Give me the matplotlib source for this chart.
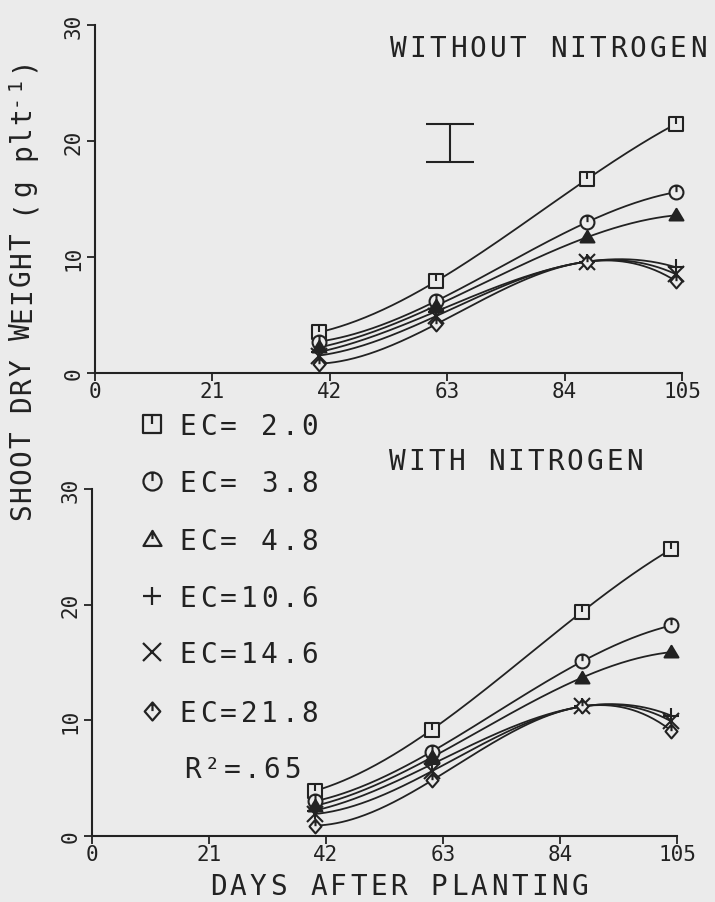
import numpy as np
import matplotlib
matplotlib.use("Agg")
import matplotlib.pyplot as plt
from matplotlib.path import Path

# ---- data -------------------------------------------------------------
days = [40, 61, 88, 104]
ec_labels = ["EC= 2.0", "EC= 3.8", "EC= 4.8", "EC=10.6", "EC=14.6", "EC=21.8"]
x_ticks = [0, 21, 42, 63, 84, 105]
y_ticks = [0, 10, 20, 30]

# shoot dry weight (g plt-1), without nitrogen
wo_ec2_0 = [3.5, 7.9, 16.7, 21.5]
wo_ec3_8 = [2.7, 6.2, 13.0, 15.6]
wo_ec4_8 = [2.2, 5.8, 11.7, 13.6]
wo_ec10_6 = [1.8, 5.3, 9.6, 9.1]
wo_ec14_6 = [1.5, 4.9, 9.6, 8.5]
wo_ec21_8 = [0.8, 4.2, 9.6, 7.9]

# shoot dry weight (g plt-1), with nitrogen
wn_ec2_0 = [3.9, 9.2, 19.4, 24.8]
wn_ec3_8 = [3.0, 7.3, 15.1, 18.2]
wn_ec4_8 = [2.6, 6.8, 13.7, 15.9]
wn_ec10_6 = [2.2, 6.2, 11.2, 10.4]
wn_ec14_6 = [1.9, 5.6, 11.2, 9.9]
wn_ec21_8 = [0.9, 4.8, 11.2, 9.1]

# LSD bar (without nitrogen panel)
lsd_day = 63.5
lsd_center = 19.85
lsd_half = 1.65

r2_text = "R²=.65"

# ---- style ------------------------------------------------------------
BG = "#ebebeb"
INK = "#222222"
FONT = ["DejaVu Sans Mono", "DejaVu Sans"]
W, H = 715, 903

plt.rcParams["font.family"] = FONT


def with_stub(base):
    stub = Path([(0, 1.0), (0, 0.05)], [Path.MOVETO, Path.LINETO])
    return Path.make_compound_path(base, stub)


M, L, C = Path.MOVETO, Path.LINETO, Path.CLOSEPOLY
sq_marker = with_stub(Path([(-1, -1), (1, -1), (1, 1), (-1, 1), (-1, -1)], [M, L, L, L, C]))
ci_marker = with_stub(Path.unit_circle())
tri_marker = with_stub(Path([(0, 1.0), (-1.05, -0.75), (1.05, -0.75), (0, 1.0)], [M, L, L, C]))
dia_marker = with_stub(Path([(0, 1.1), (0.95, 0), (0, -1.1), (-0.95, 0), (0, 1.1)], [M, L, L, L, C]))
markers = [sq_marker, ci_marker, tri_marker, "+", "x", dia_marker]

fig = plt.figure(figsize=(W / 100, H / 100), dpi=100, facecolor=BG)


def make_axes(left_px, right_px, y0_px, ytop_px):
    ax = fig.add_axes([left_px / W, 1 - y0_px / H,
                       (right_px - left_px) / W, (y0_px - ytop_px) / H])
    ax.set_facecolor("none")
    ax.set_xlim(0, 105)
    ax.set_ylim(0, 30)
    for s in ("top", "right"):
        ax.spines[s].set_visible(False)
    for s in ("left", "bottom"):
        ax.spines[s].set_linewidth(1.5)
        ax.spines[s].set_color(INK)
    ax.set_xticks(x_ticks)
    ax.set_xticklabels([str(v) for v in x_ticks])
    ax.set_yticks(y_ticks)
    ax.set_yticklabels([str(v) for v in y_ticks])
    ax.tick_params(axis="both", direction="out", length=6, width=1.3,
                   colors=INK, labelsize=15)
    ax.tick_params(axis="x", pad=0)
    ax.tick_params(axis="y", pad=2, labelrotation=90)
    for t in ax.get_yticklabels():
        t.set_va("center")
    return ax


ax_top = make_axes(95, 682, 374, 26)
ax_bot = make_axes(92, 677, 837, 490)

xs = np.linspace(days[0], days[-1], 200)


def draw_panel(ax, series):
    for vals, mk in zip(series, markers):
        coef = np.polyfit(days, vals, 3)
        ax.plot(xs, np.polyval(coef, xs), color=INK, lw=1.3, zorder=2)
        filled = mk is tri_marker
        size = 11 if mk in ("+", "x") else 10
        ax.plot(days, vals, linestyle="none", marker=mk, markersize=size,
                markeredgewidth=1.5, markeredgecolor=INK,
                markerfacecolor=INK if filled else BG, zorder=3,
                clip_on=False)


draw_panel(ax_top, [wo_ec2_0, wo_ec3_8, wo_ec4_8, wo_ec10_6, wo_ec14_6, wo_ec21_8])
draw_panel(ax_bot, [wn_ec2_0, wn_ec3_8, wn_ec4_8, wn_ec10_6, wn_ec14_6, wn_ec21_8])

ax_top.errorbar([lsd_day], [lsd_center], yerr=[lsd_half], fmt="none",
                ecolor=INK, elinewidth=1.5, capsize=17, capthick=1.5)

# ---- overlay for letter-spaced lettering and key -----------------------
ov = fig.add_axes([0, 0, 1, 1])
ov.set_xlim(0, W)
ov.set_ylim(H, 0)
ov.axis("off")
ov.patch.set_alpha(0)


def put_char(x, y, ch, size, vertical):
    if vertical:
        ov.text(x, y, ch, rotation=90, rotation_mode="anchor",
                ha="center", va="baseline", fontsize=size, color=INK,
                family=FONT)
    else:
        ov.text(x, y, ch, ha="center", va="baseline",
                fontsize=size, color=INK, family=FONT)


def spaced(x0, y0, s, pitch, size, vertical=False):
    for i, ch in enumerate(s):
        if ch == " ":
            continue
        if vertical:
            put_char(x0, y0 - i * pitch, ch, size, True)
        else:
            put_char(x0 + i * pitch, y0, ch, size, False)


spaced(398, 57, "WITHOUT NITROGEN", 20.0, 20)
spaced(397, 470, "WITH NITROGEN", 19.8, 20)
spaced(218, 895, "DAYS AFTER PLANTING", 20.1, 20)

# vertical axis title with a raised "-1" exponent
ylab_base, ylab_x, ylab_pitch = 512, 30, 18.0
ylab_main = "SHOOT DRY WEIGHT (g plt"
spaced(ylab_x, ylab_base, ylab_main, ylab_pitch, 20, vertical=True)
n = len(ylab_main)
put_char(ylab_x - 9, ylab_base - n * ylab_pitch + 2, "-", 14, True)
put_char(ylab_x - 9, ylab_base - (n + 1) * ylab_pitch + 4, "1", 14, True)
put_char(ylab_x, ylab_base - (n + 2) * ylab_pitch + 2, ")", 20, True)

key_rows = [425, 482, 540, 597, 653, 712]
for mk, lab, yc in zip(markers, ec_labels, key_rows):
    ov.plot([152], [yc], linestyle="none", marker=mk, markersize=13,
            markeredgewidth=1.6, markeredgecolor=INK, markerfacecolor="none")
    spaced(188, yc + 10, lab, 20.3, 20)
spaced(192, 778, r2_text, 20.0, 20)

fig.savefig("out.png", dpi=100, facecolor=BG)
